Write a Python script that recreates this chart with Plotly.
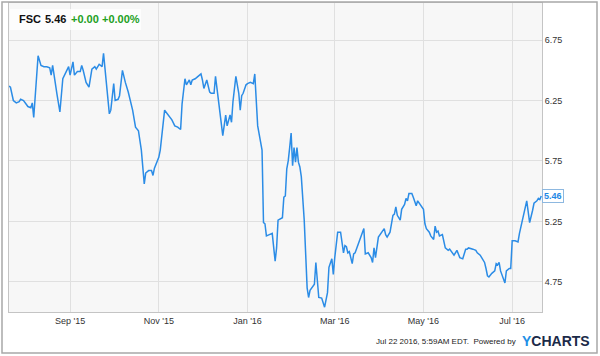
import plotly.graph_objects as go

# ---------------- data ----------------
dates = [
    "2015-07-21", "2015-07-22", "2015-07-24", "2015-07-26", "2015-07-28", "2015-07-29", "2015-07-31",
    "2015-08-02", "2015-08-03", "2015-08-05", "2015-08-06", "2015-08-07", "2015-08-10", "2015-08-12",
    "2015-08-14", "2015-08-16", "2015-08-18", "2015-08-19", "2015-08-20", "2015-08-23", "2015-08-25",
    "2015-08-27", "2015-08-29", "2015-08-31", "2015-09-01", "2015-09-03", "2015-09-04", "2015-09-06",
    "2015-09-08", "2015-09-09", "2015-09-10", "2015-09-12", "2015-09-14", "2015-09-16", "2015-09-18",
    "2015-09-19", "2015-09-21", "2015-09-23", "2015-09-24", "2015-09-28", "2015-09-29", "2015-10-01",
    "2015-10-02", "2015-10-04", "2015-10-05", "2015-10-07", "2015-10-09", "2015-10-11", "2015-10-14",
    "2015-10-16", "2015-10-18", "2015-10-20", "2015-10-22", "2015-10-23", "2015-10-25", "2015-10-27",
    "2015-10-28", "2015-10-29", "2015-11-01", "2015-11-02", "2015-11-05", "2015-11-07", "2015-11-09",
    "2015-11-10", "2015-11-12", "2015-11-14", "2015-11-16", "2015-11-17", "2015-11-19", "2015-11-20",
    "2015-11-22", "2015-11-23", "2015-11-24", "2015-11-26", "2015-11-28", "2015-11-30", "2015-12-01",
    "2015-12-02", "2015-12-04", "2015-12-06", "2015-12-07", "2015-12-09", "2015-12-10", "2015-12-12",
    "2015-12-14", "2015-12-15", "2015-12-17", "2015-12-18", "2015-12-20", "2015-12-21", "2015-12-22",
    "2015-12-24", "2015-12-26", "2015-12-27", "2015-12-28", "2015-12-29", "2015-12-31", "2016-01-01",
    "2016-01-03", "2016-01-05", "2016-01-06", "2016-01-07", "2016-01-08", "2016-01-11", "2016-01-12",
    "2016-01-13", "2016-01-14", "2016-01-16", "2016-01-18", "2016-01-20", "2016-01-21", "2016-01-22",
    "2016-01-24", "2016-01-25", "2016-01-26", "2016-01-27", "2016-01-28", "2016-01-29", "2016-01-30",
    "2016-01-31", "2016-02-01", "2016-02-02", "2016-02-03", "2016-02-04", "2016-02-05", "2016-02-06",
    "2016-02-07", "2016-02-09", "2016-02-11", "2016-02-12", "2016-02-13", "2016-02-14", "2016-02-16",
    "2016-02-17", "2016-02-18", "2016-02-19", "2016-02-21", "2016-02-22", "2016-02-23", "2016-02-25",
    "2016-02-26", "2016-02-28", "2016-02-29", "2016-03-01", "2016-03-03", "2016-03-05", "2016-03-06",
    "2016-03-07", "2016-03-08", "2016-03-09", "2016-03-10", "2016-03-11", "2016-03-13", "2016-03-14",
    "2016-03-15", "2016-03-18", "2016-03-21", "2016-03-22", "2016-03-24", "2016-03-26", "2016-03-27",
    "2016-03-28", "2016-03-29", "2016-03-31", "2016-04-01", "2016-04-03", "2016-04-04", "2016-04-05",
    "2016-04-06", "2016-04-08", "2016-04-10", "2016-04-11", "2016-04-12", "2016-04-13", "2016-04-15",
    "2016-04-16", "2016-04-18", "2016-04-19", "2016-04-20", "2016-04-21", "2016-04-23", "2016-04-24",
    "2016-04-26", "2016-04-27", "2016-04-29", "2016-05-01", "2016-05-02", "2016-05-03", "2016-05-05",
    "2016-05-06", "2016-05-08", "2016-05-09", "2016-05-10", "2016-05-11", "2016-05-12", "2016-05-14",
    "2016-05-16", "2016-05-18", "2016-05-19", "2016-05-21", "2016-05-22", "2016-05-24", "2016-05-25",
    "2016-05-26", "2016-05-28", "2016-05-30", "2016-05-31", "2016-06-01", "2016-06-04", "2016-06-06",
    "2016-06-07", "2016-06-09", "2016-06-10", "2016-06-12", "2016-06-13", "2016-06-14", "2016-06-15",
    "2016-06-16", "2016-06-17", "2016-06-19", "2016-06-20", "2016-06-21", "2016-06-22", "2016-06-23",
    "2016-06-24", "2016-06-26", "2016-06-27", "2016-06-29", "2016-06-30", "2016-07-01", "2016-07-03",
    "2016-07-05", "2016-07-06", "2016-07-08", "2016-07-11", "2016-07-12", "2016-07-13", "2016-07-15",
    "2016-07-16", "2016-07-18", "2016-07-19", "2016-07-20", "2016-07-21",
]

prices = [
    6.37, 6.36, 6.25, 6.23, 6.24, 6.26, 6.25,
    6.22, 6.20, 6.19, 6.23, 6.11, 6.62, 6.54,
    6.53, 6.53, 6.52, 6.46, 6.54, 6.30, 6.155,
    6.43, 6.48, 6.53, 6.46, 6.57, 6.46, 6.49,
    6.49, 6.54, 6.50, 6.40, 6.36, 6.51, 6.53,
    6.51, 6.55, 6.53, 6.64, 6.14, 6.17, 6.39,
    6.25, 6.26, 6.29, 6.50, 6.40, 6.32, 6.17,
    6.03, 6.00, 5.84, 5.56, 5.65, 5.67, 5.67,
    5.63, 5.69, 5.78, 5.84, 6.17, 6.14, 6.11,
    6.09, 6.04, 6.03, 6.01, 6.22, 6.43, 6.38,
    6.42, 6.38, 6.42, 6.43, 6.45, 6.47, 6.42,
    6.35, 6.42, 6.32, 6.31, 6.31, 6.45, 6.25,
    6.10, 5.96, 6.13, 6.04, 6.13, 6.07, 6.24,
    6.45, 6.31, 6.17, 6.29, 6.31, 6.38, 6.39,
    6.40, 6.39, 6.47, 6.20, 6.04, 5.84, 5.24,
    5.23, 5.13, 5.14, 5.15, 4.92, 5.03, 5.26,
    5.27, 5.28, 5.45, 5.46, 5.685, 5.75, 5.86,
    5.98, 5.71, 5.86, 5.74, 5.86, 5.74, 5.70,
    5.62, 5.26, 4.70, 4.62, 4.68, 4.70, 4.73,
    4.91, 4.79, 4.62, 4.615, 4.57, 4.54, 4.66,
    4.87, 4.94, 4.81, 4.95, 5.16, 5.16, 5.09,
    4.99, 5.05, 5.04, 4.99, 5.00, 4.90, 4.98,
    4.99, 5.09, 5.19, 4.98, 4.99, 4.95, 4.91,
    5.03, 4.95, 5.12, 5.14, 5.17, 5.19, 5.14,
    5.12, 5.16, 5.30, 5.31, 5.37, 5.30, 5.26,
    5.35, 5.39, 5.44, 5.42, 5.48, 5.48, 5.45,
    5.38, 5.42, 5.38, 5.35, 5.23, 5.19, 5.16,
    5.13, 5.10, 5.21, 5.16, 5.17, 5.13, 5.14,
    5.03, 5.01, 5.02, 4.99, 4.97, 5.01, 4.98,
    4.95, 4.94, 5.02, 5.02, 5.03, 5.02, 5.01,
    4.99, 4.97, 4.95, 4.91, 4.86, 4.80, 4.79,
    4.81, 4.82, 4.84, 4.90, 4.89, 4.91, 4.84,
    4.80, 4.74, 4.84, 4.86, 4.86, 5.09, 5.09,
    5.08, 5.15, 5.27, 5.42, 5.33, 5.24, 5.34,
    5.40, 5.42, 5.44, 5.43, 5.46,
]

x_tick_vals = ["2015-09-01", "2015-11-01", "2016-01-01", "2016-03-01", "2016-05-01", "2016-07-01"]
x_tick_text = ["Sep '15", "Nov '15", "Jan '16", "Mar '16", "May '16", "Jul '16"]
y_tick_vals = [4.75, 5.25, 5.75, 6.25, 6.75]

ticker = "FSC"
last_price = "5.46"
change_abs = "+0.00"
change_pct = "+0.00%"
timestamp = "Jul 22 2016, 5:59AM EDT.  Powered by"

# ---------------- styling ----------------
W, H = 600, 356
L, R, T, B = 9, 58, 3, 44
pw, ph = W - L - R, H - T - B
FONT = "Liberation Sans, Arial, sans-serif"
LINE_BLUE = "#2b8ce6"
GREEN = "#22a022"


def px(x):
    return (x - L) / pw


def py(y):
    return (H - B - y) / ph


fig = go.Figure()
fig.add_trace(go.Scatter(
    x=dates, y=prices, mode="lines",
    line=dict(color=LINE_BLUE, width=1.5),
    hoverinfo="skip", showlegend=False,
))

fig.update_layout(
    width=W, height=H, autosize=False,
    margin=dict(l=L, r=R, t=T, b=B),
    paper_bgcolor="white",
    plot_bgcolor="#f7f7f7",
    font=dict(family=FONT, size=9, color="#333333"),
    showlegend=False,
)

fig.update_xaxes(
    type="date",
    range=["2015-07-21", "2016-07-21 12:00"],
    tickvals=x_tick_vals, ticktext=x_tick_text,
    showgrid=True, gridcolor="#e0e0e0", gridwidth=1,
    showline=True, linecolor="#c4c4c4", linewidth=1, mirror=True,
    ticks="", zeroline=False,
    tickfont=dict(family=FONT, size=9, color="#333333"),
)
fig.update_yaxes(
    range=[4.5, 7.057], side="right",
    tickvals=y_tick_vals, tickformat=".2f",
    showgrid=True, gridcolor="#e0e0e0", gridwidth=1,
    showline=True, linecolor="#c4c4c4", linewidth=1, mirror=True,
    ticks="", zeroline=False,
    tickfont=dict(family=FONT, size=9, color="#333333"),
)

shapes = [
    # outer frame
    dict(type="rect", xref="paper", yref="paper",
         x0=px(2), x1=px(597), y0=py(353), y1=py(2),
         line=dict(color="#a8a8a8", width=1.5), fillcolor="rgba(0,0,0,0)", layer="above"),
    # header box
    dict(type="rect", xref="paper", yref="paper",
         x0=px(10), x1=px(141), y0=py(30), y1=py(9),
         line=dict(width=0), fillcolor="rgba(255,255,255,0.75)", layer="above"),
]
fig.update_layout(shapes=shapes)

ann = []
hdr_y = py(18.5)
for txt, x, col in [(ticker, 17, "#111111"), (last_price, 43, "#111111"),
                    (change_abs, 69, GREEN), (change_pct, 100, GREEN)]:
    ann.append(dict(xref="paper", yref="paper", x=px(x), y=hdr_y, xanchor="left", yanchor="middle",
                    text="<b>" + txt + "</b>", showarrow=False,
                    font=dict(family=FONT, size=11, color=col)))

# last price tag
ann.append(dict(xref="x", yref="y", x=dates[-1], y=prices[-1], xanchor="left", yanchor="middle",
                xshift=1, text="<b>" + last_price + "</b>", showarrow=False,
                font=dict(family=FONT, size=9, color="#1e88e5"),
                bgcolor="white", bordercolor="#8db8e0", borderwidth=1, borderpad=1))

# footer
ann.append(dict(xref="paper", yref="paper", x=px(518), y=py(341), xanchor="right", yanchor="middle",
                text=timestamp, showarrow=False,
                font=dict(family=FONT, size=8, color="#222222")))
ann.append(dict(xref="paper", yref="paper", x=px(520), y=py(341), xanchor="left", yanchor="middle",
                text="<b><span style='color:#1e8fe6'>Y</span>CHARTS</b>", showarrow=False,
                font=dict(family=FONT, size=14, color="#1b2a48")))

fig.update_layout(annotations=ann)

fig.write_html("out.html")
